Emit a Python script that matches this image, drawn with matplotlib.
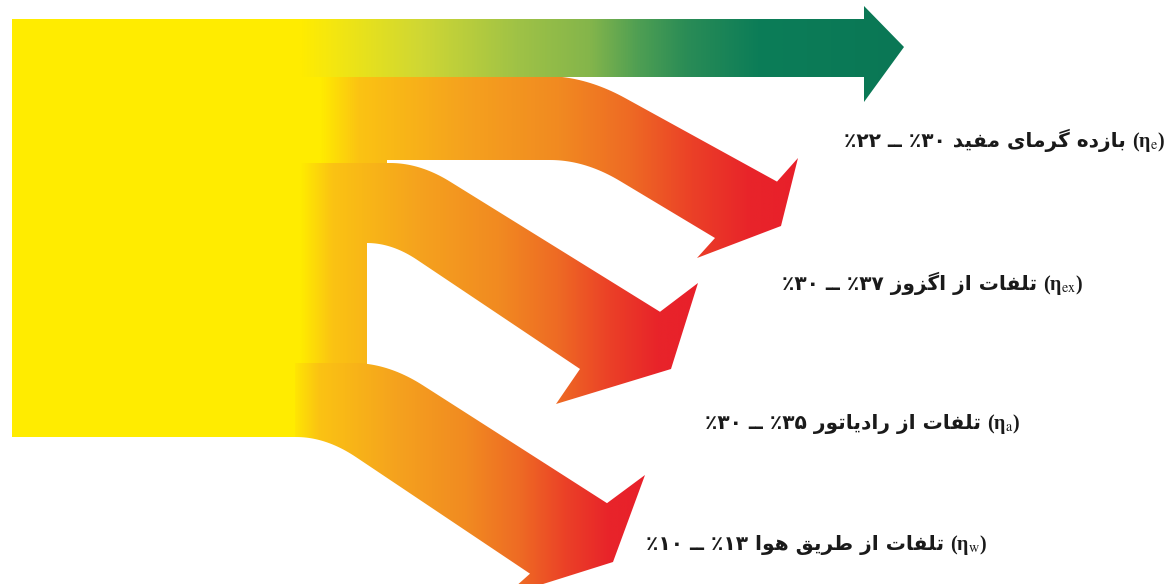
import numpy as np
import matplotlib
matplotlib.use("Agg")
import matplotlib.pyplot as plt
from matplotlib.path import Path
from matplotlib.patches import PathPatch, Rectangle
from matplotlib.colors import LinearSegmentedColormap

plt.rcParams["mathtext.fontset"] = "stix"

# --- data (logical Persian order) ---
labels = ["بازده گرمای مفید", "تلفات از اگزوز", "تلفات از رادیاتور", "تلفات از طریق هوا"]
symbols = ["e", "ex", "a", "w"]
low = [22, 30, 30, 10]     # percent
high = [30, 37, 35, 13]

# --- layout (pixel coords, y downwards) ---
label_right = [1165, 1083, 1020, 987]
label_base = [147, 290, 429, 550]

# red arrows: (x_start, y0, corner_x, slope, end_x, round) for top and bottom edges
arrow_top = [(320, 76, 585, 0.55, 777, 40), (300, 163, 420, 0.62, 660, 30), (295, 363, 388, 0.64, 607, 35)]
arrow_bot = [(387, 160, 585, 0.60, 715, 35), (367, 243, 392, 0.67, 580, 25), (295, 437, 326, 0.67, 530, 30)]
arrow_head = [[(798, 158), (781, 226), (697, 258)],
              [(698, 283), (671, 369), (556, 404)],
              [(645, 475), (613, 562), (505, 596)]]
trunk = [[(387, 166), (320, 166)], [(367, 366), (300, 366)], []]
grad_span = [(320, 798), (300, 698), (290, 645)]

YELLOW = "#FFEC00"
red_cmap = LinearSegmentedColormap.from_list("heat", [
    (0, YELLOW), (0.08, "#FBC313"), (0.3, "#F5A21E"), (0.5, "#F18A21"),
    (0.65, "#EE6A24"), (0.78, "#EB4027"), (0.9, "#E8242A"), (1, "#E8202A")])
green_cmap = LinearSegmentedColormap.from_list("useful", [
    (0, YELLOW), (0.05, "#F5E70F"), (0.2, "#CFD734"), (0.36, "#9FC246"), (0.48, "#84B54B"),
    (0.56, "#4F9F53"), (0.64, "#2A8C56"), (0.76, "#0C7D58"), (1, "#0A7755")])

# --- minimal Persian shaping (presentation forms, visual order) ---
FORMS = {  # isolated, final, initial, medial
    'ا': ('\ufe8d', '\ufe8e', None, None),
    'ب': ('\ufe8f', '\ufe90', '\ufe91', '\ufe92'),
    'ت': ('\ufe95', '\ufe96', '\ufe97', '\ufe98'),
    'د': ('\ufea9', '\ufeaa', None, None),
    'ر': ('\ufead', '\ufeae', None, None),
    'ز': ('\ufeaf', '\ufeb0', None, None),
    'ط': ('\ufec1', '\ufec2', '\ufec3', '\ufec4'),
    'ف': ('\ufed1', '\ufed2', '\ufed3', '\ufed4'),
    'ق': ('\ufed5', '\ufed6', '\ufed7', '\ufed8'),
    'ل': ('\ufedd', '\ufede', '\ufedf', '\ufee0'),
    'م': ('\ufee1', '\ufee2', '\ufee3', '\ufee4'),
    'ه': ('\ufee9', '\ufeea', '\ufeeb', '\ufeec'),
    'و': ('\ufeed', '\ufeee', None, None),
    'ی': ('\ufbfc', '\ufbfd', '\ufbfe', '\ufbff'),
    'گ': ('\ufb92', '\ufb93', '\ufb94', '\ufb95'),
}


def shape(word):
    out = []
    for i, ch in enumerate(word):
        f = FORMS[ch]
        prev = i > 0 and FORMS[word[i - 1]][2] is not None
        nxt = f[2] is not None and i < len(word) - 1
        out.append(f[3] if prev and nxt else f[1] if prev else f[2] if nxt else f[0])
    return ''.join(reversed(out))


def fa_num(n):
    return ''.join(chr(0x06F0 + int(d)) for d in str(n))


def edge(x_start, y0, xc, s, x_end, r):
    t = np.linspace(0, 1, 24)[:, None]
    p0, p1, p2 = np.array([xc - r, y0]), np.array([xc, y0]), np.array([xc + r, y0 + s * r])
    curve = (1 - t) ** 2 * p0 + 2 * (1 - t) * t * p1 + t ** 2 * p2
    return [(x_start, y0)] + [tuple(p) for p in curve] + [(x_end, y0 + s * (x_end - xc))]


fig = plt.figure(figsize=(11.67, 5.84), dpi=100)
ax = fig.add_axes([0, 0, 1, 1])
ax.set_axis_off()


def gradient_fill(pts, x0, x1, cmap, z):
    patch = PathPatch(Path(pts + [pts[0]], closed=True), facecolor="none", edgecolor="none")
    ax.add_patch(patch)
    ys = [p[1] for p in pts]
    im = ax.imshow(np.linspace(0, 1, 512)[None, :], cmap=cmap, aspect="auto",
                   extent=(x0, x1, max(ys) + 2, min(ys) - 2), zorder=z, interpolation="bilinear")
    im.set_clip_path(patch)


# source block
ax.add_patch(Rectangle((12, 19), 318, 418, facecolor=YELLOW, edgecolor="none", zorder=1))

# red loss arrows (order: 2, 3, 1 so the seams overlap cleanly)
for k in [1, 2, 0]:
    top = edge(*arrow_top[k])
    bot = edge(*arrow_bot[k])
    pts = top + arrow_head[k] + bot[::-1] + trunk[k]
    gradient_fill(pts, grad_span[k][0], grad_span[k][1], red_cmap, 2 + k * 0.1)

# green useful-work arrow
green = [(300, 19), (864, 19), (864, 6), (904, 47), (864, 102), (864, 77), (300, 77)]
gradient_fill(green, 300, 904, green_cmap, 3)

# labels
fs = 14.5
for i in range(len(labels)):
    visual = ("٪" + fa_num(low[i]) + " ــ " + "٪" + fa_num(high[i]) + " "
              + " ".join(shape(w) for w in reversed(labels[i].split())))
    eta = ax.text(label_right[i], label_base[i], "(η$_{\\mathrm{" + symbols[i] + "}}$)",
                  ha="right", va="baseline", fontsize=fs, fontweight="bold",
                  family="Liberation Serif", color="#1a1a1a", zorder=5)
    ax.annotate(visual, xy=(0, label_base[i]), xycoords=(eta, "data"),
                xytext=(-4, 0), textcoords="offset points", ha="right", va="baseline",
                fontsize=fs, fontweight="bold", family="DejaVu Sans", color="#1a1a1a", zorder=5)

ax.set_xlim(0, 1167)
ax.set_ylim(584, 0)
fig.savefig("out.png", dpi=100, facecolor="white")
